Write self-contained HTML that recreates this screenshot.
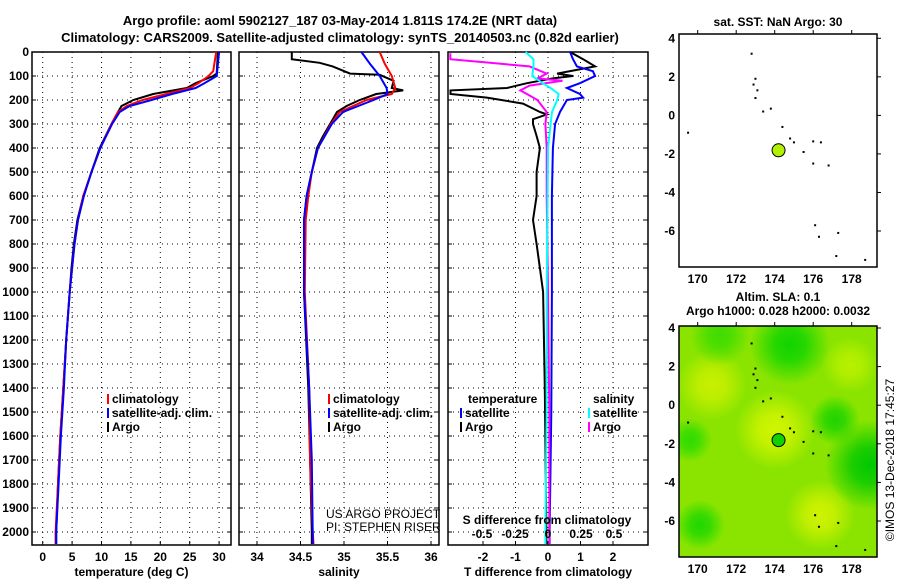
<!DOCTYPE html>
<html><head><meta charset="utf-8"><style>
body{margin:0;background:#fff;}
svg{display:block;font-family:"Liberation Sans",sans-serif;}
.t{font-weight:bold;font-size:13px;}
.b{font-weight:bold;font-size:12px;}
</style></head><body>
<svg id="c" width="900" height="580" xmlns="http://www.w3.org/2000/svg"></svg>
<script>
const depthTicks=[0,100,200,300,400,500,600,700,800,900,1000,1100,1200,1300,1400,1500,1600,1700,1800,1900,2000];
const tempTicks=[0,5,10,15,20,25,30];
const salTicks=[34,34.5,35,35.5,36];
const salTickLabels=["34","34.5","35","35.5","36"];
const tdTicks=[-2,-1,0,1,2];
const sdTicks=[-0.5,-0.25,0,0.25,0.5];
const sdTickLabels=["-0.5","-0.25","0","0.25","0.5"];
const lonTicks=[170,172,174,176,178];
const latTicks=[4,2,0,-2,-4,-6];
// temperature profiles [depth, value]
const tempArgo=[[0,29.8],[90,29.6],[100,29],[130,26],[150,24.5],[175,18.8],[200,15.4],[225,13.4],[250,12.8],[300,11.7],[400,9.7],[500,8.3],[600,6.9],[700,5.9],[800,5.3],[900,4.9],[1000,4.6],[1200,4.0],[1400,3.5],[1600,3.0],[1800,2.6],[2000,2.3],[2050,2.3]];
const tempClim=[[0,29.5],[80,29.0],[100,28.2],[130,26.5],[150,25],[175,21],[200,17],[225,14.3],[250,12.8],[300,11.7],[400,9.8],[500,8.3],[600,6.9],[700,6.0],[800,5.4],[900,5.0],[1000,4.6],[1200,4.0],[1400,3.5],[1600,3.0],[1800,2.6],[2000,2.2],[2050,2.2]];
const tempSat=[[0,30],[100,29.6],[130,27.5],[150,26],[175,22],[200,18.5],[225,14.8],[250,13.1],[300,11.8],[400,9.8],[500,8.3],[600,7.0],[700,6.0],[800,5.4],[900,5.0],[1000,4.6],[1200,4.0],[1400,3.6],[1600,3.1],[1800,2.7],[2000,2.3],[2050,2.3]];
// salinity profiles
const salArgo=[[0,34.4],[30,34.4],[45,34.72],[60,34.87],[90,35.07],[95,35.41],[120,35.57],[150,35.55],[160,35.68],[175,35.37],[200,35.18],[225,35.03],[250,34.92],[300,34.84],[350,34.76],[400,34.69],[500,34.63],[600,34.57],[700,34.54],[1000,34.54],[1400,34.59],[1700,34.61],[2000,34.63],[2050,34.63]];
const salClim=[[0,35.41],[50,35.47],[100,35.55],[150,35.59],[175,35.55],[200,35.26],[250,34.95],[300,34.85],[400,34.7],[500,34.63],[600,34.59],[700,34.56],[1000,34.55],[1400,34.6],[1700,34.61],[2000,34.64],[2050,34.65]];
const salSat=[[0,35.2],[50,35.3],[100,35.41],[150,35.49],[175,35.5],[200,35.34],[250,34.99],[300,34.86],[400,34.7],[500,34.63],[600,34.57],[700,34.54],[1000,34.54],[1400,34.6],[1700,34.63],[2000,34.64],[2050,34.64]];
// differences from climatology
const tdArgo=[[0,0.68],[30,1.08],[60,1.45],[90,0.28],[100,0.77],[110,0.15],[130,-0.65],[150,-1.26],[160,-3],[175,-3],[190,-1.88],[215,-0.77],[250,-0.25],[260,-0.03],[280,-0.46],[300,-0.46],[350,-0.35],[400,-0.25],[500,-0.35],[600,-0.35],[700,-0.46],[800,-0.35],[900,-0.25],[1000,-0.15],[1400,-0.1],[2000,-0.05],[2050,-0.05]];
const tdSat=[[0,0.68],[30,0.77],[60,0.89],[80,1.38],[100,1.45],[130,0.98],[150,0.58],[175,0.98],[190,1.08],[200,0.58],[250,0.37],[300,0.22],[400,0.15],[600,0.12],[1000,0.12],[1500,0.1],[2000,0.05],[2050,0.05]];
const sdArgo=[[5,-0.74],[30,-0.74],[45,-0.44],[60,-0.14],[90,-0.01],[110,-0.08],[120,0.11],[140,-0.14],[160,-0.21],[175,-0.16],[200,-0.08],[250,-0.01],[300,-0.02],[400,-0.01],[600,-0.01],[1000,0],[1500,0.01],[2000,0.01],[2050,0.01]];
const sdSat=[[0,-0.17],[30,-0.11],[60,-0.11],[100,-0.12],[130,-0.04],[150,0.02],[175,0.08],[200,0.07],[250,0.03],[300,0.02],[400,0.0],[1000,-0.01],[1500,-0.01],[2000,-0.02],[2050,-0.02]];
// map
const islandsLon=[172.8,173.0,172.9,173.1,173.0,173.4,173.8,174.4,174.8,175.0,175.5,176.0,176.4,176.0,176.8,176.1,176.3,177.2,177.3,178.7,169.5];
const islandsLat=[3.2,1.9,1.6,1.3,0.9,0.2,0.35,-0.6,-1.2,-1.4,-1.9,-1.35,-1.4,-2.5,-2.6,-5.7,-6.3,-7.3,-6.1,-7.5,-0.9];
const argoLon=174.2, argoLat=-1.811;

const S=document.getElementById('c');const NS='http://www.w3.org/2000/svg';
function mk(tag,attrs,parent,text){const e=document.createElementNS(NS,tag);for(const k in attrs)e.setAttribute(k,attrs[k]);if(text!==undefined)e.textContent=text;(parent||S).appendChild(e);return e;}
const top0=52,bot=545;
const yD=d=>top0+d*0.24;
function panel(name,l,r,xs,ticks,labels,title){
  const g=mk('g',{},S);
  depthTicks.forEach(d=>{mk('line',{x1:l,x2:r,y1:yD(d),y2:yD(d),stroke:'#000','stroke-dasharray':'1,4','stroke-width':1},g);
    mk('line',{x1:l,x2:l+4,y1:yD(d),y2:yD(d),stroke:'#000'},g);mk('line',{x1:r-4,x2:r,y1:yD(d),y2:yD(d),stroke:'#000'},g);});
  ticks.forEach((t,i)=>{const x=xs(t);mk('line',{x1:x,x2:x,y1:top0,y2:bot,stroke:'#000','stroke-dasharray':'1,4'},g);
    mk('line',{x1:x,x2:x,y1:bot-4,y2:bot,stroke:'#000'},g);
    const tl=mk('text',{x:x,y:561,'text-anchor':'middle',class:'b'},g,labels[i]);});
  mk('rect',{x:l,y:top0,width:r-l,height:bot-top0,fill:'none',stroke:'#000','stroke-width':1.5},g);
  const at=mk('text',{x:(l+r)/2,y:576,'text-anchor':'middle',class:'b'},g,title);
  return g;
}
function line(g,data,xs,color,name){
  const pts=data.map(p=>xs(p[1]).toFixed(1)+','+yD(p[0]).toFixed(1)).join(' ');
  const pl=mk('polyline',{points:pts,fill:'none',stroke:color,'stroke-width':2},g);
  
}
function legend(g,x,y,color,txt){mk('line',{x1:x,x2:x,y1:y-9,y2:y+1,stroke:color,'stroke-width':2},g);
  const t=mk('text',{x:x+4,y:y,class:'b'},g,txt);}
// titles
let t1=mk('text',{x:340,y:25,'text-anchor':'middle',class:'t'},S,'Argo profile: aoml 5902127_187 03-May-2014 1.811S 174.2E (NRT data)');

let t2=mk('text',{x:340,y:42,'text-anchor':'middle',class:'t'},S,'Climatology: CARS2009. Satellite-adjusted climatology: synTS_20140503.nc (0.82d earlier)');

// depth labels
depthTicks.forEach(d=>{const t=mk('text',{x:29,y:yD(d)+4,'text-anchor':'end',class:'b'},S,String(d));});
// panel1
const xT=v=>42.7+v*5.88;
const g1=panel('temperature-panel',32,231,xT,tempTicks,tempTicks.map(String),'temperature (deg C)');
line(g1,tempArgo,xT,'#000','argo-temperature-line');line(g1,tempClim,xT,'#f00','climatology-temperature-line');line(g1,tempSat,xT,'#00f','satellite-temperature-line');
legend(g1,108,403,'#f00','climatology');legend(g1,108,417,'#00f','satellite-adj. clim.');legend(g1,108,431,'#000','Argo');
// panel2
const xS=v=>257+(v-34)*87;
const g2=panel('salinity-panel',239,439,xS,salTicks,salTickLabels,'salinity');
line(g2,salArgo,xS,'#000','argo-salinity-line');line(g2,salClim,xS,'#f00','climatology-salinity-line');line(g2,salSat,xS,'#00f','satellite-salinity-line');
legend(g2,329,403,'#f00','climatology');legend(g2,329,417,'#00f','satellite-adj. clim.');legend(g2,329,431,'#000','Argo');
mk('text',{x:326,y:518,'font-size':12},g2,'US ARGO PROJECT');mk('text',{x:326,y:531,'font-size':12},g2,'PI: STEPHEN RISER');
// panel3
const xTD=v=>548+v*32.5, xSD=v=>548+v*132;
const g3=panel('difference-panel',448,648,xTD,tdTicks,tdTicks.map(String),'T difference from climatology');
line(g3,tdArgo,xTD,'#000','argo-temperature-difference-line');line(g3,tdSat,xTD,'#00f','satellite-temperature-difference-line');
line(g3,sdArgo,xSD,'#f0f','argo-salinity-difference-line');line(g3,sdSat,xSD,'#0ff','satellite-salinity-difference-line');
mk('text',{x:468,y:403,class:'b'},g3,'temperature');legend(g3,461,417,'#00f','satellite');legend(g3,461,431,'#000','Argo');
mk('text',{x:593,y:403,class:'b'},g3,'salinity');legend(g3,589,417,'#0ff','satellite');legend(g3,589,431,'#f0f','Argo');
mk('text',{x:547,y:524,'text-anchor':'middle',class:'b'},g3,'S difference from climatology');
sdTicks.forEach((t,i)=>mk('text',{x:xSD(t),y:538,'text-anchor':'middle',class:'b'},g3,sdTickLabels[i]));
// maps
function map(name,l,r,tp,bt,lat4,lat6,bg){
  const g=mk('g',{},S);
  const xL=v=>697.7+(v-170)*19.25, yL=v=>lat4+(4-v)*(lat6-lat4)/10;
  if(bg){const defs=mk('defs',{},g);
    const cp=mk('clipPath',{id:'mapclip'},defs);mk('rect',{x:l,y:tp,width:r-l,height:bt-tp},cp);
    const bgG=mk('g',{'clip-path':'url(#mapclip)'},g);
    const blobs=[['a','#c8f000',712,385,35],['b','#d2f500',775,430,40],['c','#d4f400',748,510,35],['d','#d0f200',820,515,35],['e','#00c800',870,465,45],['f','#10d400',790,345,40],['g','#20d800',700,525,25],['h','#30dc00',690,440,22],['i','#b8f000',850,365,28],['j','#40dc00',720,335,30],['k','#20d400',835,420,25]];
    mk('rect',{x:l,y:tp,width:r-l,height:bt-tp,fill:'#8ae400'},bgG);
    blobs.forEach(b=>{const rg=mk('radialGradient',{id:b[0]},defs);mk('stop',{offset:'0','stop-color':b[1],'stop-opacity':1},rg);mk('stop',{offset:'0.4','stop-color':b[1],'stop-opacity':0.8},rg);mk('stop',{offset:'1','stop-color':b[1],'stop-opacity':0},rg);
      mk('circle',{cx:b[2],cy:b[3],r:b[4],fill:'url(#'+b[0]+')'},bgG);});}
  islandsLon.forEach((lo,i)=>mk('rect',{x:xL(lo)-1,y:yL(islandsLat[i])-1,width:2,height:2,fill:'#000'},g));
  const c=mk('circle',{cx:xL(argoLon),cy:yL(argoLat),r:6.5,fill:bg?'#10d000':'#b0f000',stroke:'#000'},g);
  
  mk('rect',{x:l,y:tp,width:r-l,height:bt-tp,fill:'none',stroke:'#000','stroke-width':1.5},g);
  lonTicks.forEach(v=>{mk('line',{x1:xL(v),x2:xL(v),y1:tp,y2:tp-4,stroke:'#000'},g);mk('text',{x:xL(v),y:bt+16,'text-anchor':'middle',class:'b'},g,String(v));});
  latTicks.forEach(v=>{mk('line',{x1:r,x2:r+4,y1:yL(v),y2:yL(v),stroke:'#000'},g);mk('text',{x:l-4,y:yL(v)+4,'text-anchor':'end',class:'b'},g,String(v));});
  return g;
}
const m1=map('sst-map',679,877,34,267,38.3,231,false);
mk('text',{x:778,y:26,'text-anchor':'middle',class:'b'},m1,'sat. SST: NaN Argo: 30');
const m2=map('sla-map',679,877,326,557,328,521,true);
mk('text',{x:778,y:301,'text-anchor':'middle',class:'b'},m2,'Altim. SLA: 0.1');
mk('text',{x:778,y:315,'text-anchor':'middle',class:'b'},m2,'Argo h1000: 0.028 h2000: 0.0032');
const cr=mk('text',{x:0,y:0,'text-anchor':'middle','font-size':12,transform:'translate(894,460) rotate(-90)'},S,'©IMOS 13-Dec-2018 17:45:27');

</script>
</body></html>
